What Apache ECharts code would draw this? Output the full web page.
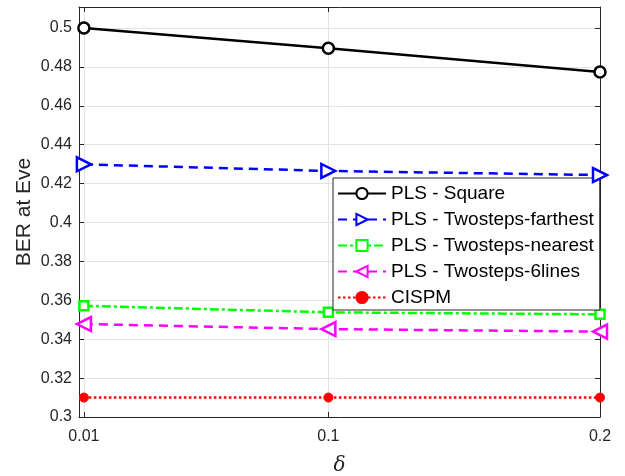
<!DOCTYPE html>
<html><head><meta charset="utf-8">
<script src="https://cdn.jsdelivr.net/npm/echarts@6/dist/echarts.min.js"></script>
<style>html,body{margin:0;padding:0;background:#fff}#c{width:625px;height:476px}</style>
</head><body><div id="c"></div>
<script>
const xValues = [0.01, 0.1, 0.2];
const xTicks = [0.01, 0.1, 0.2];
const yTicks = [0.3, 0.32, 0.34, 0.36, 0.38, 0.4, 0.42, 0.44, 0.46, 0.48, 0.5];
const seriesNames = ['PLS - Square', 'PLS - Twosteps-farthest', 'PLS - Twosteps-nearest', 'PLS - Twosteps-6lines', 'CISPM'];
const square = [0.5, 0.4896, 0.4774];
const farthest = [0.4299, 0.4265, 0.4244];
const nearest = [0.3572, 0.3538, 0.3528];
const sixLines = [0.3478, 0.3452, 0.3439];
const cispm = [0.31, 0.31, 0.31];

const pair = v => xValues.map((x, i) => [x, v[i]]);
const font = 'Liberation Sans, Arial, Helvetica, sans-serif';
const axisCol = '#262626';
const gridCol = '#e3e3e3';

function mkX(pos, labels) {
  return {
    type: 'value', position: pos, min: 0.0082, max: 0.2,
    axisLine: { show: true, onZero: false, lineStyle: { color: axisCol, width: 1 } },
    axisTick: { show: true, inside: true, length: 5, customValues: xTicks, lineStyle: { color: axisCol } },
    axisLabel: { show: labels, customValues: xTicks, color: axisCol, fontSize: 16, fontFamily: font, margin: 12,
      formatter: v => String(v) },
    splitLine: { show: labels, lineStyle: { color: gridCol, width: 1 } },
    name: labels ? 'δ' : '', nameLocation: 'middle', nameGap: 39,
    nameTextStyle: { fontFamily: 'DejaVu Serif, Liberation Serif, serif', fontStyle: 'italic', fontSize: 20, color: axisCol }
  };
}
function mkY(pos, labels) {
  return {
    type: 'value', position: pos, min: 0.3, max: 0.5108,
    axisLine: { show: true, onZero: false, lineStyle: { color: axisCol, width: 1 } },
    axisTick: { show: true, inside: true, length: 5, customValues: yTicks, lineStyle: { color: axisCol } },
    axisLabel: { show: labels, customValues: yTicks, color: axisCol, fontSize: 16, fontFamily: font, margin: 7,
      formatter: v => String(+v.toFixed(2)) },
    splitLine: { show: labels, lineStyle: { color: gridCol, width: 1 } },
    name: labels ? 'BER at Eve' : '', nameLocation: 'middle', nameGap: 44, nameMoveOverlap: false,
    nameTextStyle: { fontFamily: font, fontSize: 21, color: axisCol }
  };
}

const option = {
  animation: false,
  backgroundColor: '#fff',
  grid: { left: 79, right: 25, top: 7, bottom: 59, containLabel: false, outerBoundsMode: 'none' },
  xAxis: [mkX('bottom', true), mkX('top', false)],
  yAxis: [mkY('left', true), mkY('right', false)],
  legend: {
    orient: 'vertical', left: 333, top: 178,
    backgroundColor: '#fff', borderColor: '#262626', borderWidth: 1,
    padding: [6, 6, 3, 4], itemGap: 7, itemWidth: 48, itemHeight: 14,
    textStyle: { fontFamily: font, fontSize: 19, color: '#000', padding: [0, 0, 0, 0] },
    data: seriesNames
  },
  series: [
    { name: seriesNames[0], type: 'line', data: pair(square), symbol: 'circle', symbolSize: 11,
      itemStyle: { color: '#fff', borderColor: '#000', borderWidth: 2.5 },
      lineStyle: { color: '#000', width: 2.5, type: 'solid' }, z: 5 },
    { name: seriesNames[1], type: 'line', data: pair(farthest), symbol: 'triangle', symbolSize: 14, symbolRotate: -90,
      itemStyle: { color: '#fff', borderColor: '#0000ff', borderWidth: 2.5 },
      lineStyle: { color: '#0000ff', width: 2.5, type: [9, 6] }, z: 4 },
    { name: seriesNames[2], type: 'line', data: pair(nearest), symbol: 'rect', symbolSize: 9,
      itemStyle: { color: '#fff', borderColor: '#00ff00', borderWidth: 2.5 },
      lineStyle: { color: '#00ff00', width: 2.5, type: [9, 3, 3, 3] }, z: 3 },
    { name: seriesNames[3], type: 'line', data: pair(sixLines), symbol: 'triangle', symbolSize: 14, symbolRotate: 90,
      itemStyle: { color: '#fff', borderColor: '#ff00ff', borderWidth: 2.5 },
      lineStyle: { color: '#ff00ff', width: 2.5, type: [9, 6] }, z: 2 },
    { name: seriesNames[4], type: 'line', data: pair(cispm), symbol: 'circle', symbolSize: 9,
      itemStyle: { color: '#ff0000', borderColor: '#ff0000', borderWidth: 1 },
      lineStyle: { color: '#ff0000', width: 2.5, type: [2.5, 2.5] }, z: 1 }
  ]
};
echarts.init(document.getElementById('c'), null, { renderer: 'canvas' }).setOption(option);
</script>
</body></html>
